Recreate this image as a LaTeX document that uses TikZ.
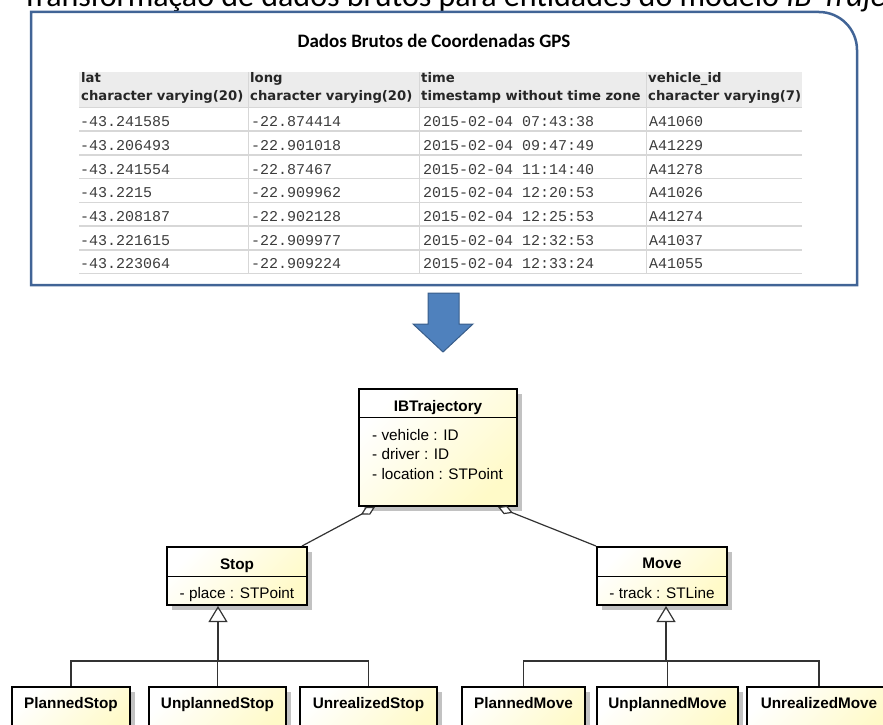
\documentclass[tikz,border=0pt]{standalone}
\usepackage{fontspec}
\setmainfont{Liberation Sans}
\newfontfamily\calibri{Carlito}
\newfontfamily\tahoma{DejaVu Sans}
\newfontfamily\courier{Liberation Mono}
\usetikzlibrary{arrows.meta,shadows}
\definecolor{azulBorda}{RGB}{65,100,150}
\definecolor{azulSeta}{RGB}{79,129,189}
\definecolor{azulSetaB}{RGB}{56,93,138}
\definecolor{amarelo}{RGB}{255,250,200}
\definecolor{cinzaCab}{RGB}{236,236,236}
\definecolor{cinzaLinha}{RGB}{215,215,215}
\definecolor{textoTab}{RGB}{60,60,60}
\tikzset{
    CL/.style ={draw=black, line width=2pt, inner sep=0pt, top color=white, bottom color=amarelo, shading angle=45,
        drop shadow={shadow xshift=5pt, shadow yshift=-5pt, fill=black!24, opacity=1}},
    NM/.style ={anchor=base, inner sep=0pt, font=\fontsize{15.3}{18}\selectfont\bfseries},
    AT/.style ={font=\fontsize{15.3}{19.2}\selectfont, align=left, inner sep=0pt},
    CAB/.style ={anchor=west, align=left, inner sep=0pt, font=\tahoma\bfseries\fontsize{13.2}{18.5}\selectfont, text=black!85},
    DAD/.style ={anchor=west, inner sep=0pt, font=\courier\fontsize{15}{18}\selectfont, text=textoTab},
    LG/.style ={draw=black!80, line width=1.2pt},
    AG/.style ={LG, -{Diamond[fill=white, length=16pt, width=9pt]}},
    HR/.style ={LG, -{Triangle[open, length=16pt, width=19pt]}}}

\begin{document}
\begin{tikzpicture}[x=1pt,y=-1pt]
        \useasboundingbox (0,0) rectangle (883,725);
        \clip (0,0) rectangle (883,725);
        % titulo cortado no topo
        \node[anchor=base west, inner sep=0pt, font=\calibri\fontsize{32}{34}\selectfont] (titulo) at (22,7)
            {Transformação de dados brutos para entidades do modelo \textit{IB-Trajectory}};
        % quadro dos dados brutos
        \draw[azulBorda, line width=2.5pt] (31,285) -- (31,12) -- (819,12) arc[start angle=90, end angle=0, radius=38pt] -- (857,285) -- cycle;
        \node[font=\calibri\bfseries\fontsize{19}{22}\selectfont] (quadro) at (434,41) {Dados Brutos de Coordenadas GPS};
        % tabela
        \fill[cinzaCab] (79,72) rectangle (802,107);
        \foreach \i in {0,...,7} \draw[cinzaLinha, line width=1.6pt] (79,107.5+23.7*\i) -- (802,107.5+23.7*\i);
        \foreach \x in {248,419,646} \draw[cinzaLinha, line width=1pt] (\x,72) -- (\x,274);
        \node[CAB] (cLat) at (81,88) {lat\\character varying(20)};
        \node[CAB] (cLong) at (250,88) {long\\character varying(20)};
        \node[CAB] (cTime) at (421,88) {time\\timestamp without time zone};
        \begin{scope}
            \clip (646,72) rectangle (802,108);
            \node[CAB] (cVeic) at (648,88) {vehicle\_id\\character varying(7)};
        \end{scope}
        \foreach \lat/\lon/\hora/\veic [count=\i] in {
            -43.241585/-22.874414/07:43:38/A41060,
            -43.206493/-22.901018/09:47:49/A41229,
            -43.241554/-22.87467/11:14:40/A41278,
            -43.2215/-22.909962/12:20:53/A41026,
            -43.208187/-22.902128/12:25:53/A41274,
            -43.221615/-22.909977/12:32:53/A41037,
            -43.223064/-22.909224/12:33:24/A41055}
            {
            \node[DAD] (lat\i) at (80,98+23.7*\i) {\lat};
            \node[DAD] (lon\i) at (251,98+23.7*\i) {\lon};
            \node[DAD] (hora\i) at (423,98+23.7*\i) {2015-02-04 \hora};
            \node[DAD] (veic\i) at (649,98+23.7*\i) {\veic};
            }
        % seta
        \filldraw[fill=azulSeta, draw=azulSetaB, line width=1pt] (428,293) -- (459,293) -- (459,324) -- (473,324) -- (443,352) -- (413,324) -- (428,324) -- cycle;
        % classes
        \node[CL, minimum width=158pt, minimum height=117pt] (ibt) at (438,447.5) {};
        \draw[line width=1pt] ([yshift=-29pt]ibt.north west) -- ([yshift=-29pt]ibt.north east);
        \node[NM] (ibtN) at (438,411.5) {IBTrajectory};
        \node[AT, anchor=west] (ibtA) at (372,454.5) {- vehicle : ID\\- driver : ID\\- location : STPoint};
        \node[CL, minimum width=140pt, minimum height=58pt] (stop) at (237,576) {};
        \draw[line width=1pt] ([yshift=-30pt]stop.north west) -- ([yshift=-30pt]stop.north east);
        \node[NM] (stopN) at (237,569) {Stop};
        \node[AT, anchor=base] (stopA) at (237,598) {- place : STPoint};
        \node[CL, minimum width=130pt, minimum height=58pt] (move) at (662,576) {};
        \draw[line width=1pt] ([yshift=-30pt]move.north west) -- ([yshift=-30pt]move.north east);
        \node[NM] (moveN) at (662,568.5) {Move};
        \node[AT, anchor=base] (moveA) at (662,598) {- track : STLine};
        % subclasses
        \node[CL, minimum width=118pt, minimum height=50pt] (pStop) at (71,712) {};
        \node[CL, minimum width=137pt, minimum height=50pt] (upStop) at (217.5,712) {};
        \node[CL, minimum width=137pt, minimum height=50pt] (urStop) at (368.5,712) {};
        \node[CL, minimum width=123pt, minimum height=50pt] (pMove) at (523.5,712) {};
        \node[CL, minimum width=141pt, minimum height=50pt] (upMove) at (667.5,712) {};
        \node[CL, minimum width=144pt, minimum height=50pt] (urMove) at (819,712) {};
        \node[NM] (pStopN) at (71,708.5) {PlannedStop};
        \node[NM] (upStopN) at (217.5,708.5) {UnplannedStop};
        \node[NM] (urStopN) at (368.5,708.5) {UnrealizedStop};
        \node[NM] (pMoveN) at (523.5,708.5) {PlannedMove};
        \node[NM] (upMoveN) at (667.5,708.5) {UnplannedMove};
        \node[NM] (urMoveN) at (819,708.5) {UnrealizedMove};
        % ligacoes
        \draw[AG] ([xshift=-6pt]stop.north east) -- ([xshift=17pt]ibt.south west);
        \draw[AG] (move.north west) -- ([xshift=-20pt]ibt.south east);
        \coordinate (jStop) at ([xshift=-19pt,yshift=-55pt]stop.south);
        \draw[HR] (jStop) -- (jStop |- stop.south);
        \draw[LG] (pStop.north) |- (jStop) -| (urStop.north);
        \draw[LG] (upStop.north) -- (upStop.north |- jStop);
        \coordinate (jMove) at ([xshift=4pt,yshift=-55pt]move.south);
        \draw[HR] (jMove) -- (jMove |- move.south);
        \draw[LG] (pMove.north) |- (jMove) -| (urMove.north);
        \draw[LG] (upMove.north) -- (upMove.north |- jMove);
\end{tikzpicture}
\end{document}
